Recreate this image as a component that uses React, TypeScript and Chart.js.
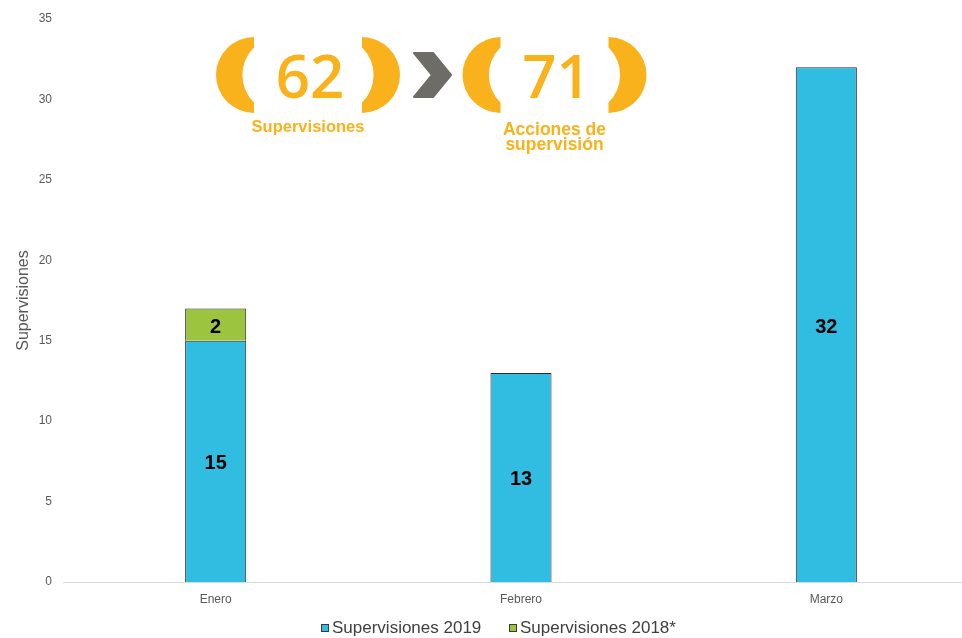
import React, { useEffect, useRef } from 'react';
import { Chart, registerables } from 'chart.js';

Chart.register(...registerables);

const categories = ['Enero', 'Febrero', 'Marzo'];
const series2019 = [15, 13, 32];
const series2018 = [2, null, null];
const seriesNames = ['Supervisiones 2019', 'Supervisiones 2018*'];
const seriesColors = ['#31BDE1', '#9DC43E'];
const yAxisTitle = 'Supervisiones';
const yMax = 35;
const yStep = 5;
const headlineValues = ['62', '71'];
const headlineLabels = [['Supervisiones'], ['Acciones de', 'supervisión']];

const ORANGE = '#F9B21B';
const GREY = '#6E6C67';

function drawLeftBracket(ctx: CanvasRenderingContext2D, gc: number, cy: number) {
  const ox = gc - 54;
  const r = 38;
  const ic = gc - 27;
  const ri = 38.6;
  const dx = ox - ic;
  const h = Math.sqrt(ri * ri - dx * dx);
  const angB = Math.atan2(h, dx);
  const angT = Math.atan2(-h, dx) + Math.PI * 2;
  ctx.beginPath();
  ctx.arc(ox, cy, r, -Math.PI / 2, Math.PI / 2, true);
  ctx.arc(ic, cy, ri, angB, angT, false);
  ctx.closePath();
  ctx.fill();
}

function drawGroup(ctx: CanvasRenderingContext2D, gc: number, value: string, lines: string[], sizes: number[], baselines: number[]) {
  const cy = 75;
  ctx.save();
  ctx.fillStyle = ORANGE;
  drawLeftBracket(ctx, gc, cy);
  ctx.save();
  ctx.translate(2 * gc, 0);
  ctx.scale(-1, 1);
  drawLeftBracket(ctx, gc, cy);
  ctx.restore();
  ctx.font = "600 60px 'Open Sans', sans-serif";
  ctx.textAlign = 'center';
  ctx.textBaseline = 'alphabetic';
  ctx.fillText(value, gc + 2, 98);
  lines.forEach((ln, i) => {
    ctx.font = `bold ${sizes[i]}px 'Liberation Sans', Arial, sans-serif`;
    ctx.fillText(ln, gc, baselines[i]);
  });
  ctx.restore();
}

const infographicPlugin = {
  id: 'infographic',
  afterDraw(chart: any) {
    const ctx = chart.ctx as CanvasRenderingContext2D;
    drawGroup(ctx, 308, headlineValues[0], headlineLabels[0], [16.5], [132]);
    drawGroup(ctx, 554.5, headlineValues[1], headlineLabels[1], [17.5, 17.5], [135, 150]);
    ctx.save();
    ctx.fillStyle = GREY;
    ctx.strokeStyle = GREY;
    ctx.lineJoin = 'round';
    ctx.lineWidth = 2;
    ctx.beginPath();
    ctx.moveTo(414, 53);
    ctx.lineTo(433, 53);
    ctx.lineTo(451, 75);
    ctx.lineTo(433, 97);
    ctx.lineTo(414, 97);
    ctx.lineTo(432, 75);
    ctx.closePath();
    ctx.fill();
    ctx.stroke();
    ctx.restore();
  },
};

const dataLabelPlugin = {
  id: 'barValueLabels',
  afterDatasetsDraw(chart: any) {
    const ctx = chart.ctx as CanvasRenderingContext2D;
    ctx.save();
    ctx.font = "bold 20px 'Liberation Sans', Arial, sans-serif";
    ctx.fillStyle = '#000';
    ctx.textAlign = 'center';
    ctx.textBaseline = 'middle';
    chart.data.datasets.forEach((ds: any, di: number) => {
      const meta = chart.getDatasetMeta(di);
      meta.data.forEach((el: any, i: number) => {
        const v = ds.data[i];
        if (v === null || v === undefined) return;
        ctx.fillText(String(v), el.x, (el.y + el.base) / 2 + 2.5);
      });
    });
    ctx.restore();
  },
};

const legendPlugin = {
  id: 'customLegend',
  afterDraw(chart: any) {
    const ctx = chart.ctx as CanvasRenderingContext2D;
    ctx.save();
    ctx.font = "17px 'Liberation Sans', Arial, sans-serif";
    ctx.textBaseline = 'alphabetic';
    ctx.textAlign = 'left';
    const starts = [321, 509];
    const y = 628;
    seriesNames.forEach((name, i) => {
      const x = starts[i];
      ctx.fillStyle = seriesColors[i];
      ctx.fillRect(x + 0.5, y - 3.5, 7, 7);
      ctx.strokeStyle = '#3a3a3a';
      ctx.lineWidth = 1;
      ctx.strokeRect(x + 0.5, y - 3.5, 7, 7);
      ctx.fillStyle = '#404040';
      ctx.fillText(name, x + 11, 633);
    });
    ctx.restore();
  },
};

export default function App() {
  const ref = useRef<HTMLCanvasElement | null>(null);
  useEffect(() => {
    if (!ref.current) return;
    const chart = new Chart(ref.current, {
      type: 'bar',
      data: {
        labels: categories,
        datasets: [
          {
            label: seriesNames[0],
            data: series2019,
            backgroundColor: seriesColors[0],
            borderColor: '#2a2a2a',
            borderWidth: 1,
            barPercentage: 0.2,
            categoryPercentage: 1,
          },
          {
            label: seriesNames[1],
            data: series2018 as any,
            backgroundColor: seriesColors[1],
            borderColor: '#2a2a2a',
            borderWidth: 1,
            barPercentage: 0.2,
            categoryPercentage: 1,
          },
        ],
      },
      options: {
        responsive: true,
        maintainAspectRatio: false,
        animation: false,
        layout: { padding: { top: 19, right: 1, left: 0, bottom: 0 } },
        plugins: {
          legend: { display: false },
          tooltip: { enabled: false },
        },
        scales: {
          x: {
            stacked: true,
            grid: { display: false, drawTicks: false },
            border: { display: true, color: '#D9D9D9', width: 1 },
            ticks: {
              color: '#595959',
              font: { size: 12, family: "'Liberation Sans', Arial, sans-serif" },
              padding: 10,
            },
            afterFit: (s: any) => {
              s.height = 56;
            },
          },
          y: {
            stacked: true,
            min: 0,
            max: yMax,
            grid: { display: false, drawTicks: false },
            border: { display: false },
            ticks: {
              stepSize: yStep,
              color: '#595959',
              font: { size: 12, family: "'Liberation Sans', Arial, sans-serif" },
              padding: 11,
            },
            title: {
              display: true,
              text: yAxisTitle,
              color: '#595959',
              font: { size: 16, family: "'Liberation Sans', Arial, sans-serif" },
              padding: { top: 14, bottom: 0 },
            },
            afterFit: (s: any) => {
              s.width = 63;
            },
          },
        },
      },
      plugins: [dataLabelPlugin, legendPlugin, infographicPlugin],
    });
    return () => chart.destroy();
  }, []);

  return (
    <div style={{ position: 'absolute', left: 0, top: 0, width: 962, height: 638, overflow: 'hidden', background: '#fff' }}>
      <div style={{ position: 'relative', width: 980, height: 638 }}>
        <canvas ref={ref} />
      </div>
    </div>
  );
}
